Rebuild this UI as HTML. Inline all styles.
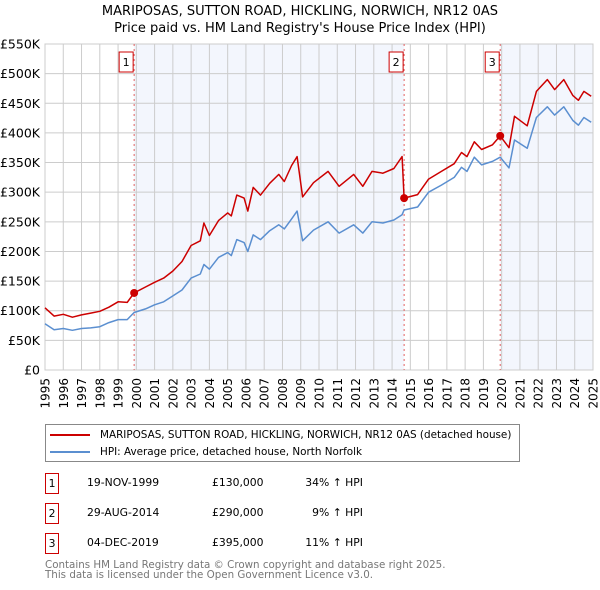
<!DOCTYPE html>
<html><head><meta charset="utf-8"><style>
body{margin:0;background:#fff;font-family:"DejaVu Sans","Liberation Sans",sans-serif;}
#wrap{position:relative;width:600px;height:590px;overflow:hidden}
</style></head><body>
<div id="wrap">
<svg id="chart" width="600" height="420" style="position:absolute;left:0;top:0"></svg>
<div style="position:absolute;left:45px;top:424px;width:473px;height:36px;border:1px solid #888;">
 <div style="position:absolute;left:4px;top:4px;font-size:10.4px;white-space:nowrap"><span style="display:inline-block;width:40px;height:2px;background:#cc0000;vertical-align:middle;margin-right:10px"></span>MARIPOSAS, SUTTON ROAD, HICKLING, NORWICH, NR12 0AS (detached house)</div>
 <div style="position:absolute;left:4px;top:21px;font-size:10.4px;white-space:nowrap"><span style="display:inline-block;width:40px;height:2px;background:#5b8fd0;vertical-align:middle;margin-right:10px"></span>HPI: Average price, detached house, North Norfolk</div>
</div>
<div id="tbl"></div>
<div style="position:absolute;left:45px;top:560px;font-size:10.3px;color:#777;line-height:10px;white-space:nowrap">Contains HM Land Registry data © Crown copyright and database right 2025.<br>This data is licensed under the Open Government Licence v3.0.</div>
</div>
<script>
const years=[1995.0,1995.5,1996.0,1996.5,1997.0,1997.5,1998.0,1998.5,1999.0,1999.5,1999.88,2000.5,2001.0,2001.5,2002.0,2002.5,2003.0,2003.5,2003.7,2004.0,2004.5,2005.0,2005.2,2005.5,2005.9,2006.1,2006.4,2006.8,2007.3,2007.8,2008.1,2008.5,2008.8,2009.1,2009.7,2010.5,2011.1,2011.9,2012.4,2012.9,2013.5,2014.1,2014.55,2014.66,2015.4,2016.0,2016.7,2017.4,2017.8,2018.1,2018.5,2018.9,2019.5,2019.92,2020.4,2020.7,2021.4,2021.9,2022.5,2022.9,2023.4,2023.9,2024.2,2024.5,2024.9];
const hpiValues=[78,68,70,67,70,71,73,80,85,85,97,103,110,115,125,135,155,162,178,170,190,198,193,220,215,200,228,220,235,245,238,255,268,218,236,250,231,245,231,250,248,253,262,270,275,300,312,325,342,335,359,346,352,359,341,388,374,426,444,430,444,421,413,426,418];
const priceValues=[105,91,94,89,93,96,99,106,115,114,130,140,148,155,167,183,210,218,248,227,252,265,260,295,290,268,308,295,315,330,318,345,360,292,316,335,310,330,310,335,332,340,360,290,296,322,335,348,367,360,385,372,380,395,375,428,412,470,490,473,490,463,455,470,462];
const saleYears=[1999.88,2014.66,2019.92];
const salePrices=[130,290,395];
const saleDates=["19-NOV-1999","29-AUG-2014","04-DEC-2019"];
const saleLabels=["£130,000","£290,000","£395,000"];
const saleDiffs=["34% ↑ HPI","9% ↑ HPI","11% ↑ HPI"];
const yTicks=[0,50,100,150,200,250,300,350,400,450,500,550];
const yTickLabels=["£0","£50K","£100K","£150K","£200K","£250K","£300K","£350K","£400K","£450K","£500K","£550K"];
const xTicks=[1995,1996,1997,1998,1999,2000,2001,2002,2003,2004,2005,2006,2007,2008,2009,2010,2011,2012,2013,2014,2015,2016,2017,2018,2019,2020,2021,2022,2023,2024,2025];

const X0=45,X1=593,Y0=370,Y1=44;
const sx=y=>X0+(y-1995)/30*(X1-X0);
const sy=v=>Y0-v/550*(Y0-Y1);
const NS="http://www.w3.org/2000/svg";
const svg=document.getElementById('chart');
function mk(tag,attrs,parent){const e=document.createElementNS(NS,tag);for(const k in attrs)e.setAttribute(k,attrs[k]);(parent||svg).appendChild(e);return e;}

const t1=mk('text',{x:300,y:15,'text-anchor':'middle','font-size':'13'});t1.textContent="MARIPOSAS, SUTTON ROAD, HICKLING, NORWICH, NR12 0AS";


const t2=mk('text',{x:300,y:32,'text-anchor':'middle','font-size':'13'});t2.textContent="Price paid vs. HM Land Registry's House Price Index (HPI)";



const sh1=mk('rect',{x:sx(saleYears[0]),y:Y1,width:sx(saleYears[1])-sx(saleYears[0]),height:Y0-Y1,fill:'#eef2fc',opacity:0.7});


const sh2=mk('rect',{x:sx(saleYears[2]),y:Y1,width:X1-sx(saleYears[2]),height:Y0-Y1,fill:'#eef2fc',opacity:0.7});



yTicks.forEach((v,i)=>{
 const l=mk('line',{x1:X0,x2:X1,y1:sy(v),y2:sy(v),stroke:'#cccccc','stroke-width':1});
 
 
 const t=mk('text',{x:40,y:sy(v)+4.5,'text-anchor':'end','font-size':'12.5'});t.textContent=yTickLabels[i];
 
 
});
xTicks.forEach(y=>{
 const l=mk('line',{x1:sx(y),x2:sx(y),y1:Y1,y2:Y0,stroke:'#cccccc','stroke-width':1});
 
 
 const t=mk('text',{x:0,y:0,'text-anchor':'end','font-size':'12',transform:`translate(${sx(y)+4.5},378) rotate(-90)`});t.textContent=y;
 
 
});
const fr=mk('rect',{x:X0,y:Y1,width:X1-X0,height:Y0-Y1,fill:'none',stroke:'#cccccc'});



saleYears.forEach((y,i)=>{
 const l=mk('line',{x1:sx(y),x2:sx(y),y1:Y1,y2:Y0,stroke:'#e06060','stroke-width':1,'stroke-dasharray':'2,3'});
 
 
 const b=mk('rect',{x:sx(y)-15,y:52,width:14,height:20,fill:'#fff',stroke:'#cc0000'});
 
 
 const t=mk('text',{x:sx(y)-8,y:66,'text-anchor':'middle','font-size':'11'});t.textContent=i+1;
 
 
});

function line(vals,color,name){
 const d=years.map((y,i)=>(i?'L':'M')+sx(y).toFixed(1)+','+sy(vals[i]).toFixed(1)).join(' ');
 const p=mk('path',{d,fill:'none',stroke:color,'stroke-width':1.5,'stroke-linejoin':'round'});
 
 
}
line(hpiValues,'#5b8fd0','hpi-line');
line(priceValues,'#cc0000','price-paid-line');
saleYears.forEach((y,i)=>{
 const c=mk('circle',{cx:sx(y),cy:sy(salePrices[i]),r:4,fill:'#cc0000'});
 
 
});

const tbl=document.getElementById('tbl');
saleDates.forEach((d,i)=>{
 const top=473+i*30;
 const row=document.createElement('div');
 
 
 row.style.cssText=`position:absolute;left:0;top:${top}px;width:600px;height:20px;font-size:10.8px`;
 row.innerHTML=`<div style="position:absolute;left:45px;top:0;width:12px;height:19px;border:1px solid #cc0000;text-align:center;line-height:19px">${i+1}</div>`+
 `<div style="position:absolute;left:87px;top:3px">${d}</div>`+
 `<div style="position:absolute;left:212px;top:3px">${saleLabels[i]}</div>`+
 `<div style="position:absolute;right:237px;top:3px;white-space:nowrap">${saleDiffs[i]}</div>`;
 tbl.appendChild(row);
});
</script>
</body></html>
